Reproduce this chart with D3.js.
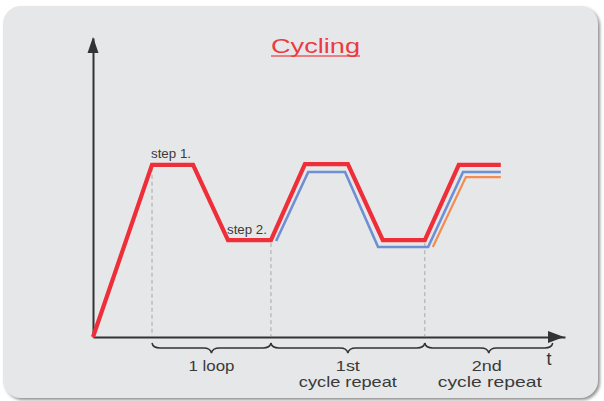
<!DOCTYPE html>
<html>
<head>
<meta charset="utf-8">
<script src="https://cdn.jsdelivr.net/npm/d3@7/dist/d3.min.js"></script>
<style>
  html, body { margin: 0; padding: 0; background: #ffffff; }
  svg { display: block; }
  text { font-family: "Liberation Sans", Arial, sans-serif; }
</style>
</head>
<body>
<svg id="chart" width="604" height="401"></svg>
<script>
// ---- data (time in arbitrary units 0..100, level 0..100) ----
const redT    = [0, 12.5, 21.2, 28.6, 37.7, 44.9, 54.0, 61.4, 70.3, 77.5, 86.4];
const redV    = [0, 57.6, 57.6, 32.4, 32.4, 57.8, 57.8, 32.4, 32.4, 57.6, 57.6];
const blueT   = [38.8, 45.6, 53.4, 60.4, 71.0, 78.4, 86.4];
const blueV   = [32.1, 55.2, 55.2, 30.1, 30.1, 55.2, 55.2];
const orangeT = [72.0, 79.0, 86.4];
const orangeV = [30.1, 53.5, 53.5];
const dropT   = [12.5, 37.7, 70.3];
const dropV   = [57.6, 32.4, 32.4];
const braceStart = [12.5, 37.7, 70.3];
const braceEnd   = [37.7, 70.3, 97.4];
const braceLine1 = ["1 loop", "1st", "2nd"];
const braceLine2 = ["", "cycle repeat", "cycle repeat"];
const stepLabels = ["step 1.", "step 2."];
const stepT      = [12.5, 28.6];
const stepV      = [57.6, 32.4];
const titleText  = "Cycling";
const axisLabel  = "t";

const svg = d3.select("#chart");

// panel with shadow
const defs = svg.append("defs");
const f = defs.append("filter").attr("id", "sh").attr("x", "-5%").attr("y", "-5%").attr("width", "110%").attr("height", "110%");
f.append("feDropShadow").attr("dx", 2).attr("dy", 2).attr("stdDeviation", 1.5).attr("flood-color", "#777").attr("flood-opacity", 0.8);
svg.append("rect").attr("x", 3).attr("y", 6).attr("width", 595).attr("height", 392)
  .attr("rx", 18).attr("ry", 18).attr("fill", "#e6e7e9").attr("filter", "url(#sh)");

// scales
const x = d3.scaleLinear().domain([0, 100]).range([93, 565]);
const y = d3.scaleLinear().domain([0, 100]).range([337, 38]);

// axes (no ticks)
const axisColor = "#333";
const gx = svg.append("g").attr("transform", `translate(0,${y(0)})`)
  .call(d3.axisBottom(x).tickValues([]).tickSizeOuter(0));
const gy = svg.append("g").attr("transform", `translate(${x(0)},0)`)
  .call(d3.axisLeft(y).tickValues([]).tickSizeOuter(0));
[gx, gy].forEach(g => g.select(".domain").attr("stroke", axisColor).attr("stroke-width", 2));

// arrowheads
svg.append("path")
  .attr("d", `M${x(100)-1},${y(0)} L${x(100)-17},${y(0)-6} L${x(100)-17},${y(0)+6} Z`)
  .attr("fill", axisColor);
svg.append("path")
  .attr("d", `M${x(0)},${y(100)-1} L${x(0)-5.5},${y(100)+15} L${x(0)+5.5},${y(100)+15} Z`)
  .attr("fill", axisColor);

// dashed drop lines
svg.append("g").selectAll("line").data(dropT).join("line")
  .attr("x1", d => x(d)).attr("x2", d => x(d))
  .attr("y1", (d, i) => y(dropV[i]) + 3).attr("y2", y(0) - 1)
  .attr("stroke", "#a8a8a8").attr("stroke-width", 1).attr("stroke-dasharray", "4,3");

// lines
const line = d3.line().x(d => x(d[0])).y(d => y(d[1]));
const zip = (a, b) => a.map((v, i) => [v, b[i]]);
svg.append("path").datum(zip(orangeT, orangeV)).attr("d", line)
  .attr("fill", "none").attr("stroke", "#f28c50").attr("stroke-width", 2.2).attr("stroke-linejoin", "miter");
svg.append("path").datum(zip(blueT, blueV)).attr("d", line)
  .attr("fill", "none").attr("stroke", "#6f8fd4").attr("stroke-width", 2.6).attr("stroke-linejoin", "miter");
svg.append("path").datum(zip(redT, redV)).attr("d", line)
  .attr("fill", "none").attr("stroke", "#ee2e38").attr("stroke-width", 4.2).attr("stroke-linejoin", "miter");

// braces
function brace(x1, x2, y0, h) {
  const m = (x1 + x2) / 2, q = 8;
  const yh = y0 + h * 0.5, yb = y0 + h;
  return `M${x1},${y0} Q${x1+1},${yh} ${x1+q},${yh} L${m-q},${yh} Q${m-1},${yh} ${m},${yb}` +
         ` Q${m+1},${yh} ${m+q},${yh} L${x2-q},${yh} Q${x2-1},${yh} ${x2},${y0}`;
}
svg.append("g").selectAll("path").data(braceStart).join("path")
  .attr("d", (d, i) => brace(x(d), x(braceEnd[i]), y(0) + 6, 10))
  .attr("fill", "none").attr("stroke", "#333").attr("stroke-width", 1.5);

// brace labels
const lbl = svg.append("g").attr("fill", "#3a3a3a").attr("font-size", 15).attr("text-anchor", "middle");
const w1 = [46, 24, 30];
lbl.selectAll("text.l1").data(braceStart).join("text").attr("class", "l1")
  .attr("x", (d, i) => (x(d) + x(braceEnd[i])) / 2 + (i === 2 ? -2 : 0))
  .attr("y", 370.5)
  .attr("textLength", (d, i) => w1[i]).attr("lengthAdjust", "spacingAndGlyphs")
  .text((d, i) => braceLine1[i]);
const w2 = [98, 104];
lbl.selectAll("text.l2").data(braceStart.slice(1)).join("text").attr("class", "l2")
  .attr("x", (d, i) => (x(d) + x(braceEnd[i + 1])) / 2 + (i === 1 ? 1 : 0))
  .attr("y", 387)
  .attr("textLength", (d, i) => w2[i]).attr("lengthAdjust", "spacingAndGlyphs")
  .text((d, i) => braceLine2[i + 1]);

// t label
svg.append("text").attr("x", 549).attr("y", 365).attr("text-anchor", "middle")
  .attr("font-size", 18).attr("fill", "#333").text(axisLabel);

// step labels
svg.append("g").selectAll("text").data(stepLabels).join("text")
  .attr("x", (d, i) => x(stepT[i]) - 1).attr("y", (d, i) => y(stepV[i]) - 6.5)
  .attr("font-size", 12.5).attr("fill", "#3a3a3a")
  .attr("textLength", 40).attr("lengthAdjust", "spacingAndGlyphs")
  .text(d => d);

// title
svg.append("text").attr("x", 315.5).attr("y", 52.5).attr("text-anchor", "middle")
  .attr("font-size", 20).attr("fill", "#ec3a42")
  .attr("textLength", 89).attr("lengthAdjust", "spacingAndGlyphs")
  .text(titleText);
svg.append("line").attr("x1", 271).attr("x2", 360).attr("y1", 56).attr("y2", 56)
  .attr("stroke", "#ec3a42").attr("stroke-width", 1.4).attr("opacity", 0.8);
</script>
</body>
</html>
